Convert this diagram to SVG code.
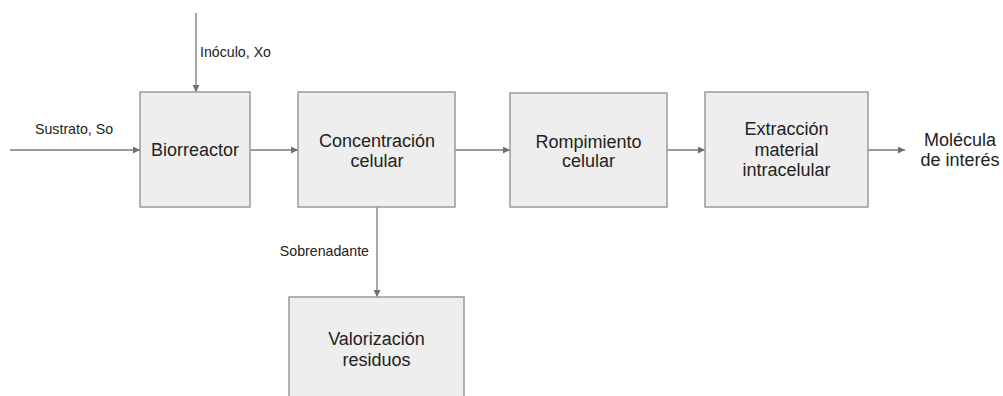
<svg xmlns="http://www.w3.org/2000/svg" width="1003" height="396" viewBox="0 0 1003 396">
<style>
.box{fill:#eeeeee;stroke:#9a9a9a;stroke-width:1.5}
.t{font-family:"Liberation Sans",Arial,sans-serif;font-size:18px;fill:#222;text-anchor:middle}
.l{font-family:"Liberation Sans",Arial,sans-serif;font-size:14.2px;fill:#222}
.c{stroke:#7a7a7a;stroke-width:1.3;fill:none;marker-end:url(#ah)}
</style>
<defs>
<marker id="ah" viewBox="0 0 10 10" refX="10" refY="5" markerWidth="8" markerHeight="7" markerUnits="userSpaceOnUse" orient="auto">
<path d="M0,0 L10,5 L0,10 z" fill="#707070"/>
</marker>
</defs>
<rect width="1003" height="396" fill="#ffffff"/>
<g id="connectors">
<line class="c" x1="10" y1="150" x2="140" y2="150"/>
<line class="c" x1="196" y1="13" x2="196" y2="92"/>
<line class="c" x1="250" y1="150" x2="298" y2="150"/>
<line class="c" x1="455" y1="150" x2="510" y2="150"/>
<line class="c" x1="667" y1="150" x2="705" y2="150"/>
<line class="c" x1="868" y1="150" x2="905" y2="150"/>
<line class="c" x1="377" y1="207" x2="377" y2="297"/>
<text class="l" x="35" y="134">Sustrato, So</text>
<text class="l" x="200" y="57">Inóculo, Xo</text>
<text class="l" x="369" y="256" text-anchor="end">Sobrenadante</text>
</g>
<g id="biorreactor">
<rect class="box" x="140" y="92" width="110" height="115"/>
<text class="t" x="195" y="156">Biorreactor</text>
</g>
<g id="concentracion">
<rect class="box" x="298" y="92" width="157" height="115"/>
<text class="t" x="377" y="147">Concentración</text>
<text class="t" x="377" y="167">celular</text>
</g>
<g id="rompimiento">
<rect class="box" x="510" y="93" width="157" height="114"/>
<text class="t" x="588.5" y="148">Rompimiento</text>
<text class="t" x="588.5" y="167">celular</text>
</g>
<g id="extraccion">
<rect class="box" x="705" y="92" width="163" height="115"/>
<text class="t" x="786.5" y="135">Extracción</text>
<text class="t" x="786.5" y="156">material</text>
<text class="t" x="786.5" y="176">intracelular</text>
</g>
<g id="molecula">
<text class="t" x="960" y="146">Molécula</text>
<text class="t" x="960" y="166">de interés</text>
</g>
<g id="valorizacion">
<rect class="box" x="289" y="297" width="175" height="110"/>
<text class="t" x="376.5" y="345">Valorización</text>
<text class="t" x="376.5" y="366">residuos</text>
</g>
</svg>
